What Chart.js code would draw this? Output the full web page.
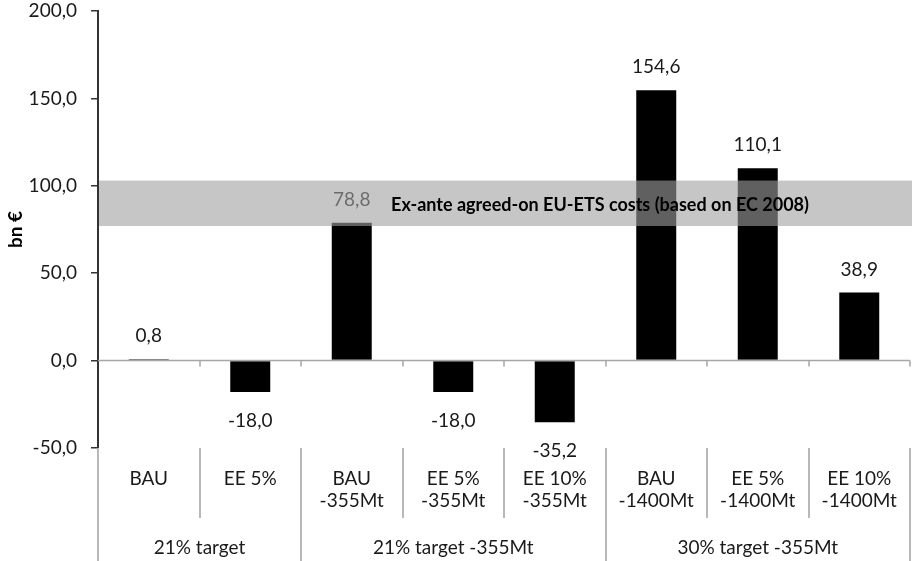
<!DOCTYPE html>
<html>
<head>
<meta charset="utf-8">
<script src="https://cdn.jsdelivr.net/npm/chart.js@4/dist/chart.umd.min.js"></script>
<style>
  html, body { margin: 0; padding: 0; background: #fff; }
  #wrap { width: 912px; height: 561px; }
</style>
</head>
<body>
<div id="wrap"><canvas id="c" width="912" height="561"></canvas></div>
<script>
// Scenario labels (one entry per bar, split into text lines)
const scenarioLines = [
  ["BAU"], ["EE 5%"],
  ["BAU", "-355Mt"], ["EE 5%", "-355Mt"], ["EE 10%", "-355Mt"],
  ["BAU", "-1400Mt"], ["EE 5%", "-1400Mt"], ["EE 10%", "-1400Mt"]
];
// Target groups and how many scenarios each spans
const groupNames = ["21% target", "21% target -355Mt", "30% target -355Mt"];
const groupSizes = [2, 3, 3];
// Costs in bn €
const costs = [0.8, -18.0, 78.8, -18.0, -35.2, 154.6, 110.1, 38.9];
// Value axis ticks
const yTicks = [-50, 0, 50, 100, 150, 200];
// Range of the ex-ante agreed EU-ETS costs (bn €)
const bandRange = [77, 103];
const bandText = "Ex-ante agreed-on EU-ETS costs (based on EC 2008)";

const FONT = 'Lato, "Open Sans", sans-serif';
const fmt = v => Number(v).toFixed(1).replace('.', ',');

const overlay = {
  id: 'overlay',
  afterDatasetsDraw(chart) {
    const { ctx, chartArea: a, scales: { x, y } } = chart;
    const meta = chart.getDatasetMeta(0);
    const half = (x.getPixelForValue(1) - x.getPixelForValue(0)) / 2;
    ctx.save();

    // horizontal axis crossing at zero, with category tick marks
    const y0 = y.getPixelForValue(0);
    ctx.strokeStyle = '#a6a6a6';
    ctx.lineWidth = 1.5;
    ctx.beginPath();
    ctx.moveTo(a.left, y0);
    ctx.lineTo(a.right, y0);
    for (let i = 1; i <= costs.length; i++) {
      const px = Math.round(x.getPixelForValue(i) - half);
      ctx.moveTo(px, y0);
      ctx.lineTo(px, y0 + 6);
    }
    ctx.stroke();

    // value labels
    ctx.font = `19px ${FONT}`;
    ctx.fillStyle = '#1a1a1a';
    ctx.textAlign = 'center';
    ctx.textBaseline = 'middle';
    meta.data.forEach((bar, i) => {
      const v = costs[i];
      const py = v >= 0 ? bar.y - 23 : bar.y + 29;
      ctx.fillText(fmt(v), bar.x, py);
    });

    // translucent band of agreed costs
    const bt = y.getPixelForValue(bandRange[1]);
    const bb = y.getPixelForValue(bandRange[0]);
    ctx.fillStyle = 'rgba(160,160,160,0.6)';
    ctx.fillRect(a.left + 1, bt, chart.width - a.left - 1, bb - bt);
    ctx.font = `bold 18px ${FONT}`;
    ctx.fillStyle = '#000';
    ctx.textAlign = 'center';
    ctx.fillText(bandText, 600, (bt + bb) / 2 + 2);
    ctx.restore();
  },
  afterDraw(chart) {
    const { ctx, chartArea: a, scales: { x } } = chart;
    const half = (x.getPixelForValue(1) - x.getPixelForValue(0)) / 2;
    const top = a.bottom;
    const rowSplit = top + 70;
    const bottom = chart.height;

    const groupEdges = [0];
    groupSizes.forEach(n => groupEdges.push(groupEdges[groupEdges.length - 1] + n));

    ctx.save();
    // separators of the two-level category table
    ctx.strokeStyle = '#b8b8b8';
    ctx.lineWidth = 2;
    ctx.beginPath();
    for (let i = 0; i <= scenarioLines.length; i++) {
      const px = Math.round(x.getPixelForValue(i) - half);
      const full = groupEdges.includes(i);
      ctx.moveTo(px, top);
      ctx.lineTo(px, full ? bottom : rowSplit);
    }
    ctx.stroke();

    // scenario labels
    ctx.font = `19px ${FONT}`;
    ctx.fillStyle = '#1a1a1a';
    ctx.textAlign = 'center';
    ctx.textBaseline = 'middle';
    scenarioLines.forEach((lines, i) => {
      const px = x.getPixelForValue(i);
      lines.forEach((t, j) => ctx.fillText(t, px, top + 31 + j * 22));
    });

    // group labels
    groupNames.forEach((g, k) => {
      const l = x.getPixelForValue(groupEdges[k]) - half;
      const r = x.getPixelForValue(groupEdges[k + 1] - 1) + half;
      ctx.fillText(g, (l + r) / 2, top + 100);
    });
    ctx.restore();
  }
};

function build() {
  new Chart(document.getElementById('c'), {
    type: 'bar',
    data: {
      labels: scenarioLines.map(l => l.join(' ')),
      datasets: [{
        data: costs,
        backgroundColor: '#000',
        borderWidth: 0,
        barPercentage: 0.394,
        categoryPercentage: 1
      }]
    },
    options: {
      responsive: false,
      animation: false,
      devicePixelRatio: 1,
      layout: { padding: { top: 11, right: 2, bottom: 113, left: 0 } },
      plugins: { legend: { display: false }, tooltip: { enabled: false } },
      scales: {
        x: { display: false, offset: true },
        y: {
          min: -50,
          max: 200,
          afterBuildTicks: s => { s.ticks = yTicks.map(v => ({ value: v })); },
          afterFit: s => { s.width = 98; s.paddingTop = 0; s.paddingBottom = 0; },
          ticks: {
            callback: v => fmt(v),
            font: { family: FONT, size: 19 },
            color: '#1a1a1a',
            padding: 14
          },
          grid: { drawOnChartArea: false, tickLength: 7, color: '#333', lineWidth: 1.5 },
          border: { color: '#333', width: 2 },
          title: {
            display: true,
            text: 'bn €',
            font: { family: FONT, size: 19, weight: 'bold' },
            color: '#000',
            padding: { top: 4, bottom: 0 }
          }
        }
      }
    },
    plugins: [overlay]
  });
}

if (document.fonts && document.fonts.load) {
  Promise.all([
    document.fonts.load(`19px Lato`),
    document.fonts.load(`bold 18px Lato`)
  ]).then(build, build);
} else {
  build();
}
</script>
</body>
</html>
